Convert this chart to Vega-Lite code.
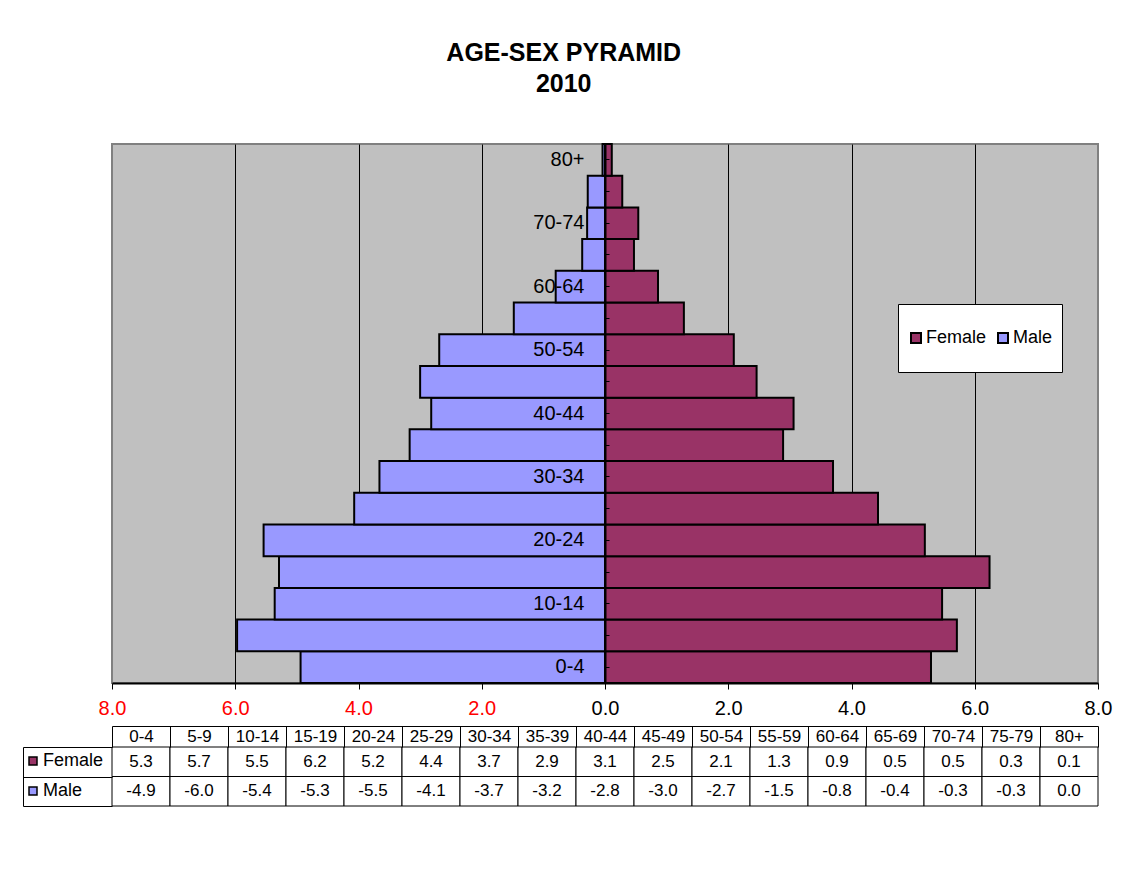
{
  "$schema": "https://vega.github.io/schema/vega-lite/v6.json",
  "padding": {"left": 22, "top": 41, "right": 5, "bottom": 5},
  "background": "white",
  "title": {
    "text": ["AGE-SEX PYRAMID", "2010"],
    "fontSize": 25,
    "fontWeight": "bold",
    "font": "Liberation Sans",
    "lineHeight": 31,
    "anchor": "middle",
    "color": "black",
    "dx": -4,
    "offset": 45
  },
  "datasets": {
    "pop": [
      {"age": "0-4", "sex": "Female", "value": 5.29},
      {"age": "5-9", "sex": "Female", "value": 5.71},
      {"age": "10-14", "sex": "Female", "value": 5.47},
      {"age": "15-19", "sex": "Female", "value": 6.24},
      {"age": "20-24", "sex": "Female", "value": 5.19},
      {"age": "25-29", "sex": "Female", "value": 4.43},
      {"age": "30-34", "sex": "Female", "value": 3.7},
      {"age": "35-39", "sex": "Female", "value": 2.89},
      {"age": "40-44", "sex": "Female", "value": 3.06},
      {"age": "45-49", "sex": "Female", "value": 2.46},
      {"age": "50-54", "sex": "Female", "value": 2.09},
      {"age": "55-59", "sex": "Female", "value": 1.28},
      {"age": "60-64", "sex": "Female", "value": 0.86},
      {"age": "65-69", "sex": "Female", "value": 0.47},
      {"age": "70-74", "sex": "Female", "value": 0.54},
      {"age": "75-79", "sex": "Female", "value": 0.28},
      {"age": "80+", "sex": "Female", "value": 0.11},
      {"age": "0-4", "sex": "Male", "value": -4.94},
      {"age": "5-9", "sex": "Male", "value": -5.97},
      {"age": "10-14", "sex": "Male", "value": -5.36},
      {"age": "15-19", "sex": "Male", "value": -5.29},
      {"age": "20-24", "sex": "Male", "value": -5.54},
      {"age": "25-29", "sex": "Male", "value": -4.07},
      {"age": "30-34", "sex": "Male", "value": -3.66},
      {"age": "35-39", "sex": "Male", "value": -3.17},
      {"age": "40-44", "sex": "Male", "value": -2.82},
      {"age": "45-49", "sex": "Male", "value": -3.0},
      {"age": "50-54", "sex": "Male", "value": -2.69},
      {"age": "55-59", "sex": "Male", "value": -1.48},
      {"age": "60-64", "sex": "Male", "value": -0.8},
      {"age": "65-69", "sex": "Male", "value": -0.37},
      {"age": "70-74", "sex": "Male", "value": -0.29},
      {"age": "75-79", "sex": "Male", "value": -0.28},
      {"age": "80+", "sex": "Male", "value": -0.04}
    ]
  },
  "data": {"name": "pop"},
  "spacing": 6,
  "resolve": {"scale": {"x": "independent", "y": "independent", "color": "independent"}, "legend": {"color": "independent"}},
  "vconcat": [
    {
      "width": 986,
      "height": 539,
      "view": {"fill": "#C0C0C0", "stroke": "#808080", "strokeWidth": 2},
      "mark": {"type": "bar", "stroke": "black", "strokeWidth": 2, "opacity": 1},
      "encoding": {
        "y": {
          "field": "age",
          "type": "ordinal",
          "sort": ["80+", "75-79", "70-74", "65-69", "60-64", "55-59", "50-54", "45-49", "40-44", "35-39", "30-34", "25-29", "20-24", "15-19", "10-14", "5-9", "0-4"],
          "scale": {"paddingInner": 0, "paddingOuter": 0},
          "axis": {
            "orient": "left",
            "offset": -493,
            "title": null,
            "domainColor": "black",
            "domainWidth": 2,
            "tickColor": "black",
            "tickWidth": 1,
            "tickSize": -4,
            "labelExpr": "indexof(['0-4','10-14','20-24','30-34','40-44','50-54','60-64','70-74','80+'], datum.value) >= 0 ? datum.value : ''",
            "labelFontSize": 20,
            "labelColor": "black",
            "labelPadding": 25,
            "labelOverlap": false,
            "zindex": 1
          }
        },
        "x": {
          "field": "value",
          "type": "quantitative",
          "stack": null,
          "scale": {"domain": [-8, 8], "nice": false, "zero": false},
          "axis": {
            "values": [-8, -6, -4, -2, 0, 2, 4, 6, 8],
            "labelExpr": "format(abs(datum.value), '.1f')",
            "labelColor": {"condition": {"test": "datum.value < 0", "value": "#FF0000"}, "value": "black"},
            "labelFontSize": 20,
            "labelPadding": 9,
            "labelFlush": false,
            "labelOverlap": false,
            "grid": true,
            "gridColor": "black",
            "gridWidth": 1,
            "gridOpacity": {"condition": {"test": "abs(datum.value) == 8 || datum.value == 0", "value": 0}, "value": 1},
            "domainColor": "black",
            "domainWidth": 2,
            "tickColor": "black",
            "tickWidth": 1,
            "tickSize": 6,
            "title": null,
            "zindex": 0
          }
        },
        "color": {
          "field": "sex",
          "type": "nominal",
          "scale": {"domain": ["Female", "Male"], "range": ["#993366", "#9999FF"]},
          "legend": {
            "orient": "none",
            "legendX": 786,
            "legendY": 160,
            "direction": "horizontal",
            "title": null,
            "fillColor": "white",
            "strokeColor": "black",
            "padding": 9,
            "clipHeight": 50,
            "symbolType": "square",
            "symbolSize": 100,
            "symbolStrokeColor": "black",
            "symbolStrokeWidth": 2,
            "symbolOpacity": 1,
            "labelFontSize": 18,
            "labelColor": "black",
            "labelOffset": 1,
            "columnPadding": 7
          }
        }
      }
    },
    {
      "width": 986,
      "height": 59,
      "view": {"stroke": null, "fill": null},
      "encoding": {
        "x": {
          "field": "age",
          "type": "ordinal",
          "sort": ["0-4", "5-9", "10-14", "15-19", "20-24", "25-29", "30-34", "35-39", "40-44", "45-49", "50-54", "55-59", "60-64", "65-69", "70-74", "75-79", "80+"],
          "scale": {"paddingInner": 0, "paddingOuter": 0},
          "axis": {
            "orient": "top",
            "offset": 21,
            "tickSize": -21,
            "tickBand": "extent",
            "domainColor": "black",
            "domainWidth": 1,
            "tickColor": "black",
            "tickWidth": 1,
            "labelAngle": 0,
            "labelFontSize": 17,
            "labelColor": "black",
            "labelPadding": 11,
            "labelBaseline": "middle",
            "title": null
          }
        },
        "y": {
          "field": "sex",
          "type": "nominal",
          "sort": ["Female", "Male"],
          "scale": {"paddingInner": 0, "paddingOuter": 0},
          "axis": {
            "orient": "left",
            "offset": 89,
            "tickSize": -89,
            "tickBand": "extent",
            "labels": false,
            "domainColor": "black",
            "domainWidth": 1,
            "tickColor": "black",
            "tickWidth": 1,
            "title": null
          }
        }
      },
      "layer": [
        {"mark": {"type": "rect", "fill": "white", "stroke": "black", "strokeWidth": 1}},
        {
          "mark": {"type": "text", "fontSize": 17, "color": "black"},
          "encoding": {"text": {"field": "value", "type": "quantitative", "format": ".1f"}}
        },
        {
          "mark": {"type": "point", "shape": "square", "filled": true, "opacity": 0},
          "encoding": {
            "color": {
              "field": "sex",
              "type": "nominal",
              "scale": {"domain": ["Female", "Male"], "range": ["#993366", "#9999FF"]},
              "legend": {
                "orient": "none",
                "legendX": -88,
                "legendY": 5,
                "direction": "vertical",
                "title": null,
                "padding": 0,
                "symbolType": "square",
                "symbolSize": 64,
                "symbolStrokeColor": "black",
                "symbolStrokeWidth": 1.5,
                "symbolOpacity": 1,
                "labelFontSize": 18,
                "labelColor": "black",
                "labelOffset": 1,
                "rowPadding": 12
              }
            }
          }
        }
      ]
    }
  ],
  "config": {
    "font": "Liberation Sans",
    "locale": {"number": {"decimal": ".", "thousands": ",", "grouping": [3], "currency": ["$", ""], "minus": "-"}},
    "axis": {"labelFont": "Liberation Sans"},
    "legend": {"labelFont": "Liberation Sans"}
  }
}
